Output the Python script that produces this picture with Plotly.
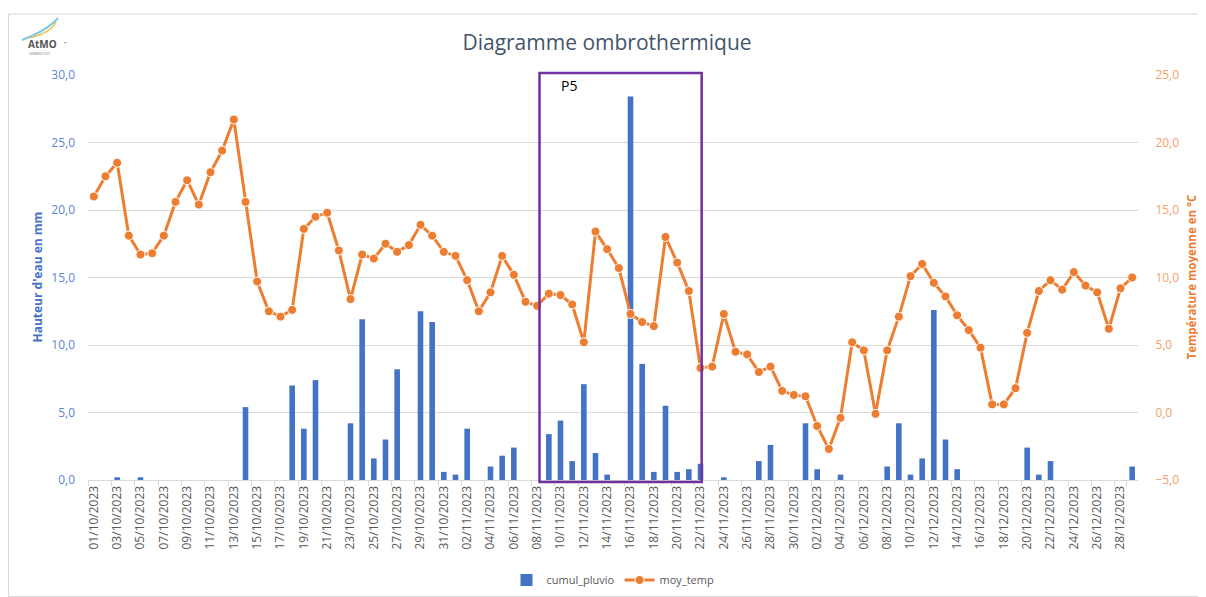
import pandas as pd
import plotly.graph_objects as go

dates = [d.strftime("%d/%m/%Y") for d in pd.date_range("2023-10-01", periods=90, freq="D")]

cumul_pluvio = [
    0, 0, 0.2, 0, 0.2, 0, 0, 0, 0, 0,
    0, 0, 0, 5.4, 0, 0, 0, 7.0, 3.8, 7.4,
    0, 0, 4.2, 11.9, 1.6, 3.0, 8.2, 0, 12.5, 11.7,
    0.6, 0.4, 3.8, 0, 1.0, 1.8, 2.4, 0, 0, 3.4,
    4.4, 1.4, 7.1, 2.0, 0.4, 0, 28.4, 8.6, 0.6, 5.5,
    0.6, 0.8, 1.2, 0, 0.2, 0, 0, 1.4, 2.6, 0,
    0, 4.2, 0.8, 0, 0.4, 0, 0, 0, 1.0, 4.2,
    0.4, 1.6, 12.6, 3.0, 0.8, 0, 0, 0, 0, 0,
    2.4, 0.4, 1.4, 0, 0, 0, 0, 0, 0, 1.0,
]

moy_temp = [
    16.0, 17.5, 18.5, 13.1, 11.7, 11.8, 13.1, 15.6, 17.2, 15.4,
    17.8, 19.4, 21.7, 15.6, 9.7, 7.5, 7.1, 7.6, 13.6, 14.5,
    14.8, 12.0, 8.4, 11.7, 11.4, 12.5, 11.9, 12.4, 13.9, 13.1,
    11.9, 11.6, 9.8, 7.5, 8.9, 11.6, 10.2, 8.2, 7.9, 8.8,
    8.7, 8.0, 5.2, 13.4, 12.1, 10.7, 7.3, 6.7, 6.4, 13.0,
    11.1, 9.0, 3.3, 3.4, 7.3, 4.5, 4.3, 3.0, 3.4, 1.6,
    1.3, 1.2, -1.0, -2.7, -0.4, 5.2, 4.6, -0.1, 4.6, 7.1,
    10.1, 11.0, 9.6, 8.6, 7.2, 6.1, 4.8, 0.6, 0.6, 1.8,
    5.9, 9.0, 9.8, 9.1, 10.4, 9.4, 8.9, 6.2, 9.2, 10.0,
]

tick_labels = dates[::2]
p5_label = "P5"

BLUE = "#4472C4"
ORANGE = "#ED7D31"
FONT = "Open Sans"

# page body has an 8px margin; plot area in figure coordinates
W, H = 1198, 589
L, T, PW, PH = 80, 67, 1050, 405
R, B = W - L - PW, H - T - PH


def px(xf):
    return (xf - 8 - L) / PW


def py(yf):
    return 1 - (yf - 8 - T) / PH


fig = go.Figure()
fig.add_trace(go.Bar(x=dates, y=cumul_pluvio, name="cumul_pluvio",
                     marker=dict(color=BLUE, line=dict(width=0)), yaxis="y"))
fig.add_trace(go.Scatter(x=dates, y=moy_temp, name="moy_temp", yaxis="y2",
                         mode="lines+markers",
                         line=dict(color=ORANGE, width=3),
                         marker=dict(color=ORANGE, size=9, line=dict(color="white", width=1))))

fig.update_layout(
    width=W, height=H,
    margin=dict(l=L, r=R, t=T, b=B, autoexpand=False),
    paper_bgcolor="white", plot_bgcolor="white",
    separators=", ",
    font=dict(family=FONT, color="#595959"),
    bargap=0.52,
    title=dict(text="Diagramme ombrothermique", x=0.5, xanchor="center",
               y=1 - (43 - 8) / H, yanchor="middle",
               font=dict(size=21, color="#44546A", family=FONT)),
    xaxis=dict(type="category", categoryorder="array", categoryarray=dates,
               range=[-0.5, 89.5],
               tickvals=tick_labels, ticktext=tick_labels, tickangle=-90,
               tickson="boundaries", ticks="outside", ticklen=5, tickcolor="#D9D9D9",
               showgrid=False, showline=True, linecolor="#D9D9D9", linewidth=1,
               tickfont=dict(size=12, color="#595959", family=FONT)),
    yaxis=dict(range=[0, 30], dtick=5, tickformat=".1f",
               showgrid=True, gridcolor="#D9D9D9", gridwidth=1, zeroline=False,
               tickfont=dict(size=12, color="#5B84D6", family=FONT), ticklabelstandoff=12),
    yaxis2=dict(range=[-5, 25], dtick=5, tickformat=".1f", overlaying="y", side="right",
                showgrid=False, zeroline=False,
                ticks="outside", ticklen=14, tickcolor="rgba(0,0,0,0)",
                tickfont=dict(size=12, color="#F4A06A", family=FONT)),
    legend=dict(orientation="h", x=0.5, xanchor="center", y=py(580), yanchor="middle",
                font=dict(size=11, color="#595959", family=FONT), traceorder="normal"),
    showlegend=True,
)

# Outer chart frame
fig.add_shape(type="rect", xref="paper", yref="paper",
              x0=px(8.5), x1=px(1203.5), y0=py(596.5), y1=py(14),
              line=dict(color="#D9D9D9", width=1), layer="below")

# P5 period rectangle
fig.add_shape(type="rect", xref="x", yref="paper", x0=38.2, x1=52.1, y0=py(482), y1=py(73),
              line=dict(color="#7030A0", width=2.5), fillcolor="rgba(0,0,0,0)")
fig.add_annotation(x=40.7, y=py(86), xref="x", yref="paper", text=p5_label, showarrow=False,
                   font=dict(size=14, color="#000000", family=FONT), xanchor="center", yanchor="middle")

# Axis titles
fig.add_annotation(xref="paper", yref="paper", x=px(37), y=0.5, text="<b>Hauteur d'eau en mm</b>",
                   textangle=-90, showarrow=False,
                   font=dict(size=12, color="#4472C4", family=FONT), xanchor="center", yanchor="middle")
fig.add_annotation(xref="paper", yref="paper", x=px(1191), y=0.5,
                   text="<b>Température moyenne en °C</b>",
                   textangle=-90, showarrow=False,
                   font=dict(size=11.5, color=ORANGE, family=FONT), xanchor="center", yanchor="middle")

# Logo (text approximation)
fig.add_annotation(xref="paper", yref="paper", x=px(42), y=py(44), text="<b>AtMO</b>",
                   showarrow=False, font=dict(size=10, color="#555555", family=FONT),
                   xanchor="center", yanchor="middle")
fig.add_annotation(xref="paper", yref="paper", x=px(65), y=py(43), text="•",
                   showarrow=False, font=dict(size=6, color="#3355CC", family=FONT),
                   xanchor="center", yanchor="middle")
fig.add_annotation(xref="paper", yref="paper", x=px(40), y=py(53), text="GRAND EST",
                   showarrow=False, font=dict(size=4, color="#888888", family=FONT),
                   xanchor="center", yanchor="middle")
fig.add_shape(type="path", xref="paper", yref="paper",
              path=f"M {px(22)} {py(40)} Q {px(48)} {py(30)} {px(58)} {py(18)}",
              line=dict(color="#7FC8E8", width=2))
fig.add_shape(type="path", xref="paper", yref="paper",
              path=f"M {px(30)} {py(38)} Q {px(52)} {py(32)} {px(56)} {py(22)}",
              line=dict(color="#F3C04E", width=1.5))

fig.write_html("out.html")
